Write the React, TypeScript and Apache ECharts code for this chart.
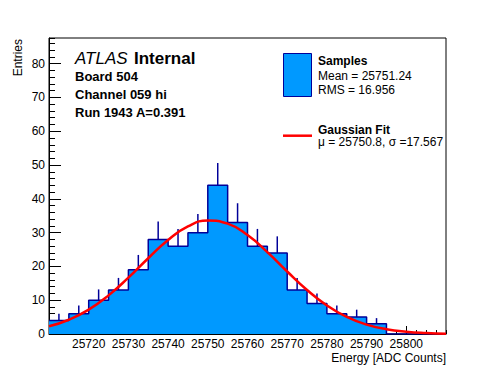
import React, { useEffect, useRef } from "react";
import * as echarts from "echarts";

// Histogram bins (low edges, width 5 ADC counts) and entries
const binLowEdges = [
  25710, 25715, 25720, 25725, 25730, 25735, 25740, 25745, 25750, 25755,
  25760, 25765, 25770, 25775, 25780, 25785, 25790, 25795, 25800, 25805,
];
const binWidth = 5;
const counts = [4, 6, 10, 13, 19, 28, 26, 30, 44, 33, 26, 24, 13, 9, 6, 5, 3, 0, 0, 0];
const errors = [2.0, 2.4, 3.2, 3.6, 4.4, 5.3, 5.1, 5.5, 6.6, 5.7, 5.1, 4.9, 3.6, 3.0, 2.4, 2.2, 1.7, 0, 0, 0];

// Gaussian fit curve
const fitX = [
  25710, 25715, 25720, 25725, 25730, 25735, 25740, 25745, 25750, 25755, 25760,
  25765, 25770, 25775, 25780, 25785, 25790, 25795, 25800, 25805, 25810,
];
const fitY = [
  2.27, 4.21, 7.22, 11.43, 16.67, 22.42, 27.81, 31.82, 33.57, 32.65, 29.29,
  24.24, 18.49, 13.01, 8.44, 5.05, 2.79, 1.42, 0.67, 0.29, 0.11,
];

const infoLines = ["Board 504", "Channel 059 hi", "Run 1943 A=0.391"];
const legendSamples = ["Samples", "Mean = 25751.24", "RMS = 16.956"];
const legendFit = ["Gaussian Fit", "\u03bc = 25750.8, \u03c3 =17.567"];

const X_MIN = 25710;
const X_MAX = 25810;
const Y_MAX = 87.6;

const FILL = "#0099ff";
const EDGE = "#000099";
const FONT = '"Liberation Sans", Arial, Helvetica, sans-serif';

export default function App() {
  const ref = useRef<HTMLDivElement>(null);

  useEffect(() => {
    if (!ref.current) return;
    const chart = echarts.init(ref.current, undefined, { renderer: "svg" });

    const stepData: number[][] = binLowEdges.map((x, i) => [x, counts[i]]);
    stepData.push([
      binLowEdges[binLowEdges.length - 1] + binWidth,
      counts[counts.length - 1],
    ]);
    const errData = binLowEdges.map((x, i) => [x + binWidth / 2, counts[i], errors[i]]);
    const fitData = fitX.map((x, i) => [x, fitY[i]]);

    const txt = (
      text: string,
      x: number,
      y: number,
      opts: any = {}
    ) => ({
      type: "text",
      x,
      y,
      z: 100,
      rotation: opts.rotation || 0,
      style: {
        text,
        fill: "#000",
        fontFamily: FONT,
        fontSize: opts.size || 12,
        fontWeight: opts.bold ? "bold" : "normal",
        fontStyle: opts.italic ? "italic" : "normal",
        align: opts.align || "left",
        verticalAlign: "middle",
        lineHeight: opts.lineHeight,
      },
    });

    const option: any = {
      animation: false,
      grid: {
        left: 49,
        top: 38,
        width: 397,
        height: 296,
        show: true,
        borderColor: "#000",
        borderWidth: 1,
        backgroundColor: "transparent",
        containLabel: false,
        outerBoundsMode: "none",
      },
      xAxis: [
        {
          type: "value",
          min: X_MIN,
          max: X_MAX,
          interval: 10,
          axisLine: { show: true, lineStyle: { color: "#000", width: 1 } },
          axisTick: { show: true, inside: true, length: 8, lineStyle: { color: "#000" } },
          axisLabel: {
            show: true,
            color: "#000",
            fontFamily: FONT,
            fontSize: 12,
            lineHeight: 11,
            margin: 4,
            showMinLabel: false,
            showMaxLabel: false,
            formatter: (v: number) => String(v),
          },
          splitLine: { show: false },
        },
        {
          type: "value",
          position: "bottom",
          min: X_MIN,
          max: X_MAX,
          interval: 2.5,
          axisLine: { show: false },
          axisTick: { show: true, inside: true, length: 4, lineStyle: { color: "#000" } },
          axisLabel: { show: false },
          splitLine: { show: false },
        },
      ],
      yAxis: [
        {
          type: "value",
          min: 0,
          max: Y_MAX,
          interval: 10,
          axisLine: { show: true, lineStyle: { color: "#000", width: 1 } },
          axisTick: { show: true, inside: true, length: 12, lineStyle: { color: "#000" } },
          axisLabel: {
            show: true,
            color: "#000",
            fontFamily: FONT,
            fontSize: 12,
            margin: 4,
            showMaxLabel: false,
          },
          splitLine: { show: false },
        },
        {
          type: "value",
          position: "left",
          min: 0,
          max: Y_MAX,
          interval: 2,
          axisLine: { show: false },
          axisTick: { show: true, inside: true, length: 6, lineStyle: { color: "#000" } },
          axisLabel: { show: false },
          splitLine: { show: false },
        },
      ],
      series: [
        {
          type: "custom",
          name: "errors",
          xAxisIndex: 0,
          yAxisIndex: 0,
          z: 1,
          renderItem: (params: any, api: any) => {
            const x = api.value(0);
            const c = api.value(1);
            const e = api.value(2);
            if (!(e > 0)) return null;
            const p0 = api.coord([x, c]);
            const p1 = api.coord([x, c + e]);
            return {
              type: "line",
              shape: { x1: p0[0], y1: p0[1], x2: p1[0], y2: p1[1] },
              style: { stroke: EDGE, lineWidth: 1.5 },
            };
          },
          data: errData,
        },
        {
          type: "line",
          name: "Samples",
          xAxisIndex: 0,
          yAxisIndex: 0,
          z: 2,
          step: "end",
          symbol: "none",
          data: stepData,
          lineStyle: { color: EDGE, width: 1.5 },
          areaStyle: { color: FILL, opacity: 1 },
        },
        {
          type: "line",
          name: "Gaussian Fit",
          xAxisIndex: 0,
          yAxisIndex: 0,
          z: 3,
          smooth: true,
          symbol: "none",
          data: fitData,
          lineStyle: { color: "#ff0000", width: 2.5 },
        },
      ],
      graphic: [
        txt("ATLAS", 75, 58, { size: 17, italic: true }),
        txt("Internal", 134, 58, { size: 17, bold: true }),
        txt(infoLines[0], 75, 76, { size: 13, bold: true }),
        txt(infoLines[1], 75, 94, { size: 13, bold: true }),
        txt(infoLines[2], 75, 112.5, { size: 13, bold: true }),
        {
          type: "rect",
          z: 100,
          shape: { x: 283.5, y: 53.5, width: 28, height: 43 },
          style: { fill: FILL, stroke: EDGE, lineWidth: 1 },
        },
        txt(legendSamples[0], 318, 61, { size: 12, bold: true }),
        txt(legendSamples[1], 318, 76, { size: 12 }),
        txt(legendSamples[2], 318, 90, { size: 12 }),
        {
          type: "line",
          z: 100,
          shape: { x1: 283, y1: 135.7, x2: 312, y2: 135.7 },
          style: { stroke: "#ff0000", lineWidth: 2.5 },
        },
        txt(legendFit[0], 318, 129.5, { size: 12, bold: true }),
        txt(legendFit[1], 318, 142, { size: 12 }),
        txt("Entries", 18, 39, { size: 12, rotation: Math.PI / 2, align: "right" }),
        txt("Energy [ADC Counts]", 446, 358, { size: 12, align: "right", lineHeight: 11 }),
      ],
    };

    chart.setOption(option);
    return () => chart.dispose();
  }, []);

  return (
    <div
      ref={ref}
      style={{ position: "fixed", left: 0, top: 0, width: 496, height: 372, background: "#fff" }}
    />
  );
}
